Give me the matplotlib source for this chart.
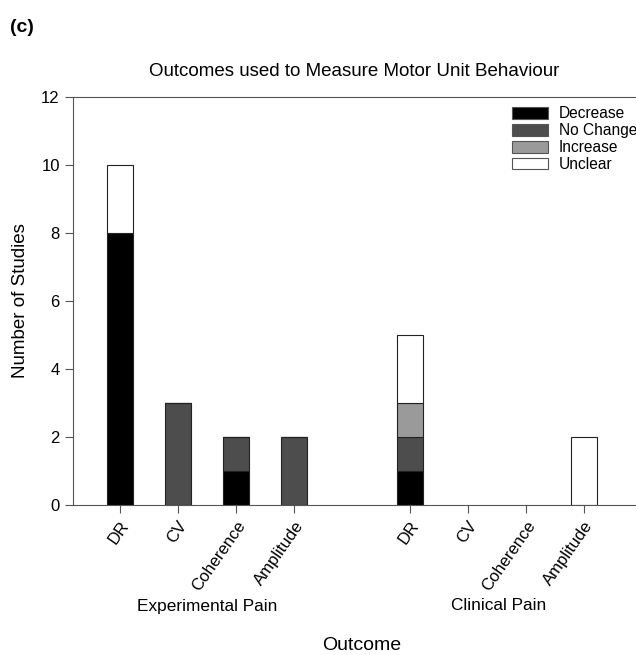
import matplotlib
matplotlib.use("Agg")
import matplotlib.pyplot as plt
import numpy as np
from matplotlib.patches import Patch

plt.rcParams['font.family'] = ['Liberation Sans', 'DejaVu Sans']

categories = ["DR", "CV", "Coherence", "Amplitude", "DR", "CV", "Coherence", "Amplitude"]
groups = ["Experimental Pain", "Clinical Pain"]
decrease = [8, 0, 1, 0, 1, 0, 0, 0]
no_change = [0, 3, 1, 2, 1, 0, 0, 0]
increase = [0, 0, 0, 0, 1, 0, 0, 0]
unclear = [2, 0, 0, 0, 2, 0, 0, 2]
series_names = ["Decrease", "No Change", "Increase", "Unclear"]
colors = ["#000000", "#4d4d4d", "#9a9a9a", "#ffffff"]

positions = np.array([0, 1, 2, 3, 5, 6, 7, 8])

fig = plt.figure(figsize=(6.36, 6.55), dpi=100)
ax = fig.add_axes([73/636, 1-505/655, 1-73/636, (505-97)/655])

series = [np.array(v, dtype=float) for v in (decrease, no_change, increase, unclear)]
total = sum(series)
mask = total > 0

bottom = np.zeros(len(positions))
handles = []
for vals, c, name in zip(series, colors, series_names):
    ax.bar(positions[mask], vals[mask], bottom=bottom[mask], width=0.45, color=c,
           edgecolor="#222222", linewidth=0.8, label=name)
    bottom += vals
    handles.append(Patch(facecolor=c, edgecolor="#555555", linewidth=0.8, label=name))

ax.set_xlim(-0.81, 8.9)
ax.set_ylim(0, 12)
ax.set_yticks([0, 2, 4, 6, 8, 10, 12])
ax.set_xticks(positions)
ax.set_xticklabels(categories, rotation=55, ha="right", rotation_mode="anchor", fontsize=12)
ax.tick_params(axis='y', labelsize=12, direction='out', length=6, color="#555555")
ax.tick_params(axis='x', direction='out', length=6, color="#555555")
for s in ["left", "bottom", "top"]:
    ax.spines[s].set_color("#555555")
ax.spines["right"].set_visible(False)

ax.set_title("Outcomes used to Measure Motor Unit Behaviour", fontsize=13.5, pad=15)
ax.set_ylabel("Number of Studies", fontsize=13.5, labelpad=9)

fig.text(207/636, 1-606/655, groups[0], fontsize=12.4, ha="center", va="center")
fig.text(499/636, 1-606/655, groups[1], fontsize=12.4, ha="center", va="center")
fig.text(362/636, 1-645/655, "Outcome", fontsize=14, ha="center", va="center")
fig.text(10/636, 1-27/655, "(c)", fontsize=14, fontweight="bold", ha="left", va="center")

ax.legend(handles=handles, loc="upper left", bbox_to_anchor=((503-73)/(636-73), 1.0),
          frameon=False, fontsize=11.2, handlelength=2.3, handleheight=0.8,
          labelspacing=0.12, handletextpad=0.7, borderaxespad=0.2)

fig.savefig("out.png", dpi=100)
